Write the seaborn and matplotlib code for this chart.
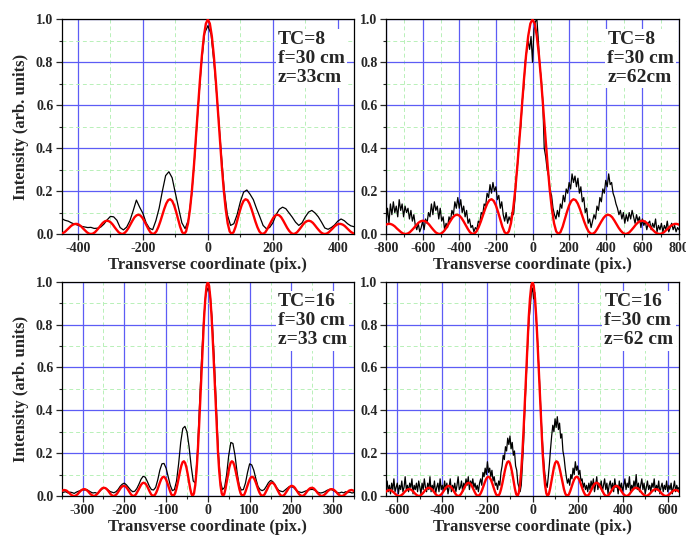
import numpy as np
import matplotlib
matplotlib.use("Agg")
import matplotlib.pyplot as plt
from matplotlib.ticker import MultipleLocator, FormatStrFormatter
import seaborn as sns

# Theory: Bessel profile J0^2 read on a radial grid 0 .. 24 (step 0.2)
theory_profile = [
    1.000, 0.980, 0.922, 0.832, 0.716, 0.586, 0.450, 0.321, 0.207, 0.116,
    0.050, 0.012, 0.000, 0.009, 0.034, 0.068, 0.103, 0.133, 0.154, 0.162,
    0.158, 0.142, 0.117, 0.088, 0.058, 0.032, 0.012, 0.002, 0.001, 0.008,
    0.023, 0.041, 0.059, 0.075, 0.086, 0.090, 0.087, 0.078, 0.063, 0.046,
    0.029, 0.015, 0.005, 0.000, 0.002, 0.008, 0.019, 0.031, 0.044, 0.054,
    0.060, 0.062, 0.059, 0.052, 0.041, 0.029, 0.018, 0.008, 0.002, 0.000,
    0.002, 0.008, 0.017, 0.026, 0.036, 0.043, 0.047, 0.047, 0.044, 0.038,
    0.029, 0.020, 0.011, 0.005, 0.001, 0.000, 0.003, 0.008, 0.016, 0.024,
    0.031, 0.036, 0.038, 0.038, 0.035, 0.029, 0.022, 0.014, 0.008, 0.003,
    0.000, 0.001, 0.004, 0.009, 0.015, 0.022, 0.027, 0.031, 0.032, 0.031,
    0.028, 0.023, 0.017, 0.010, 0.005, 0.001, 0.000, 0.001, 0.004, 0.009,
    0.015, 0.020, 0.025, 0.027, 0.028, 0.026, 0.023, 0.018, 0.013, 0.007,
    0.003,
]
theory_r_max = 24.0
# pixels per unit of the radial variable, one per panel
theory_scale = [30.5, 58.8, 15.1, 27.9]

# Measured profiles (TC=8, z=33 cm), x = -450 .. 450 step 10
meas_tc8_z33 = [
    0.072, 0.064, 0.060, 0.052, 0.046, 0.041, 0.036, 0.033, 0.030, 0.031,
    0.026, 0.027, 0.032, 0.046, 0.066, 0.082, 0.080, 0.064, 0.030, 0.019,
    0.032, 0.062, 0.108, 0.158, 0.125, 0.096, 0.052, 0.027, 0.020, 0.062,
    0.120, 0.200, 0.272, 0.290, 0.262, 0.190, 0.120, 0.052, 0.025, 0.065,
    0.180, 0.370, 0.590, 0.790, 0.935, 0.970, 0.930, 0.780, 0.600, 0.400,
    0.210, 0.090, 0.040, 0.048, 0.090, 0.150, 0.195, 0.205, 0.185, 0.160,
    0.118, 0.080, 0.040, 0.025, 0.030, 0.052, 0.090, 0.115, 0.125, 0.118,
    0.098, 0.078, 0.055, 0.040, 0.052, 0.080, 0.102, 0.110, 0.098, 0.080,
    0.055, 0.028, 0.022, 0.030, 0.042, 0.060, 0.070, 0.062, 0.048, 0.038,
    0.034,
]

# TC=8, z=62 cm, x = -800 .. 800 step 8
meas_tc8_z62 = [
    0.06, 0.12, 0.05, 0.14, 0.09, 0.15, 0.10, 0.13, 0.08, 0.16,
    0.11, 0.14, 0.08, 0.13, 0.10, 0.12, 0.07, 0.11, 0.06, 0.09,
    0.04, 0.02, 0.05, 0.01, 0.03, 0.06, 0.02, 0.07, 0.05, 0.10,
    0.08, 0.14, 0.09, 0.15, 0.11, 0.13, 0.07, 0.12, 0.06, 0.08,
    0.02, 0.05, 0.03, 0.08, 0.06, 0.11, 0.09, 0.15, 0.12, 0.17,
    0.12, 0.16, 0.10, 0.13, 0.08, 0.11, 0.05, 0.07, 0.03, 0.04,
    0.01, 0.03, 0.02, 0.06, 0.05, 0.10, 0.09, 0.14, 0.13, 0.19,
    0.17, 0.23, 0.19, 0.24, 0.20, 0.22, 0.16, 0.18, 0.12, 0.15,
    0.09, 0.06, 0.10, 0.05, 0.08, 0.06, 0.10, 0.09, 0.16, 0.27,
    0.34, 0.45, 0.50, 0.62, 0.68, 0.80, 0.85, 0.90, 0.86, 0.92,
    0.80, 0.95, 0.99, 1.00, 0.90, 0.78, 0.72, 0.62, 0.40, 0.36,
    0.30, 0.27, 0.20, 0.18, 0.12, 0.09, 0.07, 0.11, 0.08, 0.14,
    0.12, 0.18, 0.15, 0.21, 0.19, 0.24, 0.21, 0.28, 0.24, 0.27,
    0.22, 0.26, 0.19, 0.22, 0.15, 0.17, 0.10, 0.12, 0.05, 0.07,
    0.03, 0.06, 0.09, 0.07, 0.13, 0.11, 0.17, 0.15, 0.21, 0.19,
    0.25, 0.22, 0.28, 0.23, 0.24, 0.19, 0.17, 0.14, 0.12, 0.09,
    0.11, 0.07, 0.10, 0.05, 0.09, 0.06, 0.10, 0.07, 0.11, 0.08,
    0.05, 0.09, 0.06, 0.08, 0.03, 0.07, 0.04, 0.06, 0.02, 0.05,
    0.06, 0.02, 0.05, 0.03, 0.07, 0.01, 0.04, 0.02, 0.05, 0.01,
    0.04, 0.02, 0.06, 0.01, 0.03, 0.05, 0.02, 0.04, 0.01, 0.03,
    0.02,
]

# TC=16, z=33 cm, x = -350 .. 350 step 5
meas_tc16_z33 = [
    0.015, 0.018, 0.020, 0.014, 0.018, 0.016, 0.012, 0.018, 0.022, 0.026,
    0.030, 0.028, 0.030, 0.024, 0.018, 0.014, 0.016, 0.012, 0.020, 0.030,
    0.038, 0.036, 0.030, 0.022, 0.018, 0.015, 0.020, 0.030, 0.045, 0.055,
    0.060, 0.052, 0.040, 0.028, 0.020, 0.022, 0.035, 0.055, 0.078, 0.092,
    0.088, 0.068, 0.045, 0.030, 0.028, 0.040, 0.075, 0.120, 0.150, 0.152,
    0.130, 0.090, 0.050, 0.025, 0.030, 0.070, 0.150, 0.250, 0.315, 0.325,
    0.300, 0.230, 0.140, 0.070, 0.060, 0.200, 0.420, 0.640, 0.820, 0.940,
    0.970,
    0.950, 0.830, 0.650, 0.430, 0.210, 0.070, 0.030, 0.040, 0.100, 0.190,
    0.250, 0.245, 0.190, 0.110, 0.050, 0.028, 0.030, 0.060, 0.110, 0.150,
    0.145, 0.120, 0.080, 0.045, 0.030, 0.025, 0.030, 0.045, 0.062, 0.072,
    0.068, 0.055, 0.038, 0.026, 0.022, 0.020, 0.028, 0.036, 0.044, 0.044,
    0.040, 0.030, 0.022, 0.018, 0.016, 0.020, 0.024, 0.028, 0.030, 0.031,
    0.028, 0.022, 0.016, 0.014, 0.016, 0.020, 0.026, 0.030, 0.031, 0.026,
    0.020, 0.016, 0.014, 0.018, 0.015, 0.020, 0.016, 0.018, 0.014, 0.016,
]

# TC=16, z=62 cm, x = -650 .. 650 step 5
meas_tc16_z62 = [
    0.03, 0.07, 0.02, 0.05, 0.01, 0.06, 0.03, 0.08, 0.02, 0.04,
    0.06, 0.01, 0.05, 0.03, 0.07, 0.02, 0.04, 0.09, 0.03, 0.05,
    0.02, 0.06, 0.04, 0.08, 0.01, 0.05, 0.03, 0.06, 0.02, 0.07,
    0.04, 0.01, 0.06, 0.03, 0.08, 0.04, 0.02, 0.06, 0.03, 0.09,
    0.02, 0.05, 0.03, 0.07, 0.01, 0.04, 0.06, 0.02, 0.08, 0.03,
    0.05, 0.02, 0.07, 0.03, 0.06, 0.01, 0.04, 0.08, 0.02, 0.05,
    0.03, 0.06, 0.02, 0.05, 0.09, 0.03, 0.04, 0.07, 0.02, 0.06,
    0.04, 0.08, 0.05, 0.09, 0.03, 0.07, 0.05, 0.08, 0.04, 0.06,
    0.03, 0.05, 0.02, 0.06, 0.08, 0.05, 0.11, 0.09, 0.13, 0.10,
    0.16, 0.11, 0.13, 0.09, 0.12, 0.07, 0.09, 0.05, 0.06, 0.03,
    0.07, 0.05, 0.11, 0.14, 0.19, 0.17, 0.23, 0.21, 0.27, 0.24,
    0.28, 0.22, 0.25, 0.19, 0.21, 0.14, 0.12, 0.06, 0.04, 0.02,
    0.05, 0.14, 0.24, 0.38, 0.50, 0.62, 0.74, 0.83, 0.88, 0.95,
    0.97, 0.92, 0.95, 0.84, 0.78, 0.66, 0.56, 0.44, 0.33, 0.24,
    0.16, 0.10, 0.06, 0.04, 0.09, 0.15, 0.22, 0.28, 0.33, 0.30,
    0.36, 0.32, 0.37, 0.31, 0.34, 0.27, 0.29, 0.21, 0.18, 0.13,
    0.09, 0.06, 0.08, 0.05, 0.10, 0.08, 0.13, 0.10, 0.16, 0.12,
    0.14, 0.10, 0.12, 0.07, 0.08, 0.04, 0.06, 0.03, 0.05, 0.02,
    0.06, 0.03, 0.07, 0.04, 0.08, 0.02, 0.05, 0.09, 0.03, 0.06,
    0.04, 0.07, 0.02, 0.05, 0.08, 0.03, 0.06, 0.01, 0.05, 0.07,
    0.03, 0.06, 0.02, 0.08, 0.04, 0.05, 0.01, 0.07, 0.03, 0.06,
    0.02, 0.05, 0.08, 0.03, 0.06, 0.04, 0.09, 0.02, 0.05, 0.03,
    0.07, 0.04, 0.10, 0.03, 0.06, 0.02, 0.05, 0.08, 0.03, 0.06,
    0.01, 0.04, 0.07, 0.03, 0.05, 0.02, 0.06, 0.04, 0.08, 0.02,
    0.05, 0.03, 0.07, 0.01, 0.04, 0.06, 0.02, 0.05, 0.03, 0.07,
    0.02, 0.05, 0.03, 0.06, 0.01, 0.04, 0.07, 0.02, 0.05, 0.03,
    0.04,
]

measured = [meas_tc8_z33, meas_tc8_z62, meas_tc16_z33, meas_tc16_z62]
x_half_range = [450, 800, 350, 650]
x_major = [200, 200, 100, 200]
panel_text = [
    "TC=8\nf=30 cm\nz=33cm",
    "TC=8\nf=30 cm\nz=62cm",
    "TC=16\nf=30 cm\nz=33 cm",
    "TC=16\nf=30 cm\nz=62 cm",
]

sns.set_style("white")
plt.rcParams['font.family'] = ['Liberation Serif', 'DejaVu Serif']
plt.rcParams['font.weight'] = 'bold'
plt.rcParams['axes.unicode_minus'] = False

fig = plt.figure(figsize=(6.86, 5.35), dpi=100)

# axes boxes in figure fractions (left, bottom, width, height)
boxes = [
    (0.0899, 0.5626, 0.4262, 0.4013),
    (0.5627, 0.5626, 0.4271, 0.4013),
    (0.0899, 0.0729, 0.4262, 0.4006),
    (0.5627, 0.0729, 0.4271, 0.4006),
]
text_x = [0.74, 0.755, 0.74, 0.745]

r = np.linspace(0, theory_r_max, len(theory_profile))
prof = np.array(theory_profile)

for i in range(4):
    ax = fig.add_axes(boxes[i])
    half = x_half_range[i]

    y_meas = np.array(measured[i])
    x_meas = np.linspace(-half, half, len(y_meas))
    sns.lineplot(x=x_meas, y=y_meas, color='black', lw=0.9, ax=ax,
                 estimator=None, sort=False, zorder=2)

    # symmetric theory curve
    x_th = np.concatenate([-r[:0:-1], r]) * theory_scale[i]
    y_th = np.concatenate([prof[:0:-1], prof])
    sns.lineplot(x=x_th, y=y_th, color='#ff0000', lw=1.7, ax=ax,
                 estimator=None, sort=False, zorder=3)

    ax.set_xlim(-half, half)
    ax.set_ylim(0, 1.0)
    ax.xaxis.set_major_locator(MultipleLocator(x_major[i]))
    ax.xaxis.set_minor_locator(MultipleLocator(x_major[i] / 2))
    ax.yaxis.set_major_locator(MultipleLocator(0.2))
    ax.yaxis.set_minor_locator(MultipleLocator(0.1))
    ax.yaxis.set_major_formatter(FormatStrFormatter('%.1f'))

    ax.set_axisbelow(True)
    ax.grid(which='major', color='#5c5cf5', lw=0.9, ls='-')
    ax.grid(which='minor', color='#b8f0b8', lw=0.7, ls=(0, (4, 3)))

    ax.tick_params(which='major', direction='out', length=4, width=0.9,
                   labelsize=10, bottom=True, left=True, pad=2)
    ax.tick_params(which='minor', direction='out', length=2.5, width=0.8,
                   bottom=True, left=True)
    for lab in ax.get_xticklabels() + ax.get_yticklabels():
        lab.set_fontweight('bold')
    for sp in ax.spines.values():
        sp.set_color('black')
        sp.set_linewidth(0.9)

    ax.set_xlabel("Transverse coordinate (pix.)", fontsize=12,
                  fontweight='bold', labelpad=1)
    if i % 2 == 0:
        ax.set_ylabel("Intensity (arb. units)", fontsize=12,
                      fontweight='bold', labelpad=5)
    else:
        ax.set_ylabel("")

    ax.text(text_x[i], 0.945, panel_text[i], transform=ax.transAxes,
            ha='left', va='top', fontsize=14, fontweight='bold',
            linespacing=1.15, zorder=4,
            bbox=dict(facecolor='white', edgecolor='none', pad=1.5))

fig.savefig("out.png", dpi=100)
